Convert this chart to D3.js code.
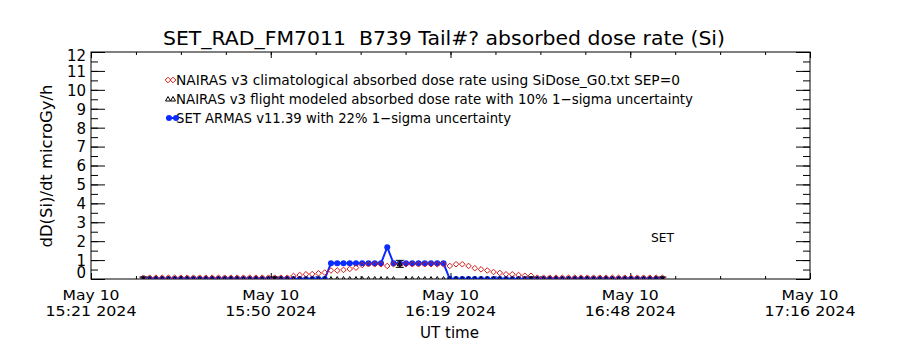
<!DOCTYPE html>
<html>
<head>
<meta charset="utf-8">
<script src="https://cdn.jsdelivr.net/npm/d3@7"></script>
<style>
  body { margin: 0; background: #fff; }
  svg { display: block; }
  text { font-family: "DejaVu Sans", sans-serif; fill: #000; white-space: pre; }
</style>
</head>
<body>
<svg id="chart" width="900" height="350"></svg>
<script>
// ---- text ----
const titleText = "SET_RAD_FM7011  B739 Tail#? absorbed dose rate (Si)";
const yLabelText = "dD(Si)/dt microGy/h";
const xLabelText = "UT time";
const noteText = "SET";
const legendLabels = [
  "NAIRAS v3 climatological absorbed dose rate using SiDose_G0.txt SEP=0",
  "NAIRAS v3 flight modeled absorbed dose rate with 10% 1\u2212sigma uncertainty",
  "SET ARMAS v11.39 with 22% 1\u2212sigma uncertainty"
];

// ---- axes ----
const xTickDates = ["May 10", "May 10", "May 10", "May 10", "May 10"];
const xTickTimes = ["15:21 2024", "15:50 2024", "16:19 2024", "16:48 2024", "17:16 2024"];
const yTickLabels = ["0", "1", "2", "3", "4", "5", "6", "7", "8", "9", "10", "11", "12"];
const axisStart = "2024-05-10 15:21:00";
const axisEnd = "2024-05-10 17:16:00";
const yRange = [0, 12];

// ---- data: one sample per minute ----
const sampleStart = "2024-05-10 15:29:23";
const sampleStepMin = 1;

// NAIRAS v3 climatological (microGy/h)
const nairasClimo = [
  0.07, 0.07, 0.07, 0.07, 0.07, 0.07, 0.07, 0.07, 0.07, 0.07,
  0.07, 0.07, 0.07, 0.07, 0.07, 0.07, 0.07, 0.07, 0.07, 0.07,
  0.07, 0.07, 0.07, 0.07, 0.16, 0.21, 0.25, 0.26, 0.30, 0.34,
  0.45, 0.45, 0.48, 0.53, 0.60, 0.74, 0.78, 0.78, 0.78, 0.69,
  0.78, 0.78, 0.78, 0.78, 0.78, 0.78, 0.78, 0.78, 0.78, 0.69,
  0.78, 0.78, 0.69, 0.57, 0.51, 0.45, 0.37, 0.32, 0.25, 0.25,
  0.21, 0.17, 0.17, 0.07, 0.07, 0.07, 0.07, 0.07, 0.07, 0.07,
  0.07, 0.07, 0.07, 0.07, 0.07, 0.07, 0.07, 0.07, 0.07, 0.07,
  0.07, 0.07, 0.07, 0.07
];

// NAIRAS v3 flight modeled (microGy/h)
const nairasFlight = [
  0, 0, 0, 0, 0, 0, 0, 0, 0, 0,
  0, 0, 0, 0, 0, 0, 0, 0, 0, 0,
  0, 0, 0, 0, 0, 0, 0, 0, 0, 0,
  0, 0, 0, 0, 0, 0, 0, 0, 0, 0,
  0, 0.80, 0, 0, 0, 0, 0, 0, 0, 0,
  0, 0, 0, 0, 0, 0, 0, 0, 0, 0,
  0, 0, 0, 0, 0, 0, 0, 0, 0, 0,
  0, 0, 0, 0, 0, 0, 0, 0, 0, 0,
  0, 0, 0, 0
];
// samples carrying a 10% error bar
const nairasFlightErrIdx = [0, 21, 41, 62, 83];
const nairasFlightErrFrac = 0.10;

// SET ARMAS v11.39 (microGy/h)
const armas = [
  0, 0, 0, 0, 0, 0, 0, 0, 0, 0,
  0, 0, 0, 0, 0, 0, 0, 0, 0, 0,
  0, 0, 0, 0, 0, 0, 0, 0, 0, 0,
  0.83, 0.83, 0.83, 0.83, 0.83, 0.83, 0.83, 0.83, 0.83, 1.68,
  0.83, 0.83, 0.83, 0.83, 0.83, 0.83, 0.83, 0.83, 0.83, 0,
  0, 0, 0, 0, 0, 0, 0, 0, 0, 0,
  0, 0, 0, 0, 0, 0, 0, 0, 0, 0,
  0, 0, 0, 0, 0, 0, 0, 0, 0, 0,
  0, 0, 0, 0
];

// ---- colours ----
const colClimo = "#d01a1a";
const colFlight = "#000000";
const colArmas = "#0a2cff";

// ---- layout ----
const svg = d3.select("#chart");
const plot = { left: 91, right: 810, top: 52, bottom: 279 };

const parse = d3.timeParse("%Y-%m-%d %H:%M:%S");
const t0 = parse(axisStart), t1 = parse(axisEnd);
const s0 = parse(sampleStart);
const times = armas.map((_, i) => d3.timeMinute.offset(s0, i * sampleStepMin));
const x = d3.scaleTime().domain([t0, t1]).range([plot.left, plot.right]);
const y = d3.scaleLinear().domain(yRange).range([plot.bottom, plot.top]);

const nX = xTickTimes.length - 1;
const majorX = d3.range(nX + 1).map(i => new Date(+t0 + i * (t1 - t0) / nX));
const minorX = d3.range(nX * 4 + 1).map(i => new Date(+t0 + i * (t1 - t0) / (nX * 4)));
const majorY = yTickLabels.map(Number);
const minorY = d3.range(0, 12.01, 0.5);

// clip region for data marks
svg.append("defs").append("clipPath").attr("id", "plotClip")
  .append("rect")
  .attr("x", plot.left).attr("y", plot.top)
  .attr("width", plot.right - plot.left).attr("height", plot.bottom - plot.top);

// ---- axes (ticks pointing inward on all four sides) ----
function tickAxis(gen, tx, ty) {
  const g = svg.append("g").attr("transform", `translate(${tx},${ty})`).call(gen);
  g.select(".domain").remove();
  g.selectAll("line").attr("stroke", "#000").attr("stroke-width", 1);
  return g;
}
tickAxis(d3.axisLeft(y).tickValues(minorY).tickSize(-7).tickFormat(""), plot.left, 0);
tickAxis(d3.axisRight(y).tickValues(minorY).tickSize(-7).tickFormat(""), plot.right, 0);
tickAxis(d3.axisRight(y).tickValues(majorY).tickSize(-14).tickFormat(""), plot.right, 0);
const yAx = tickAxis(d3.axisLeft(y).tickValues(majorY).tickSize(-14)
  .tickPadding(5).tickFormat((d, i) => yTickLabels[i]), plot.left, 0);
// end labels are kept inside the axis span
const lastY = majorY.length - 1;
yAx.selectAll("text").attr("font-size", 15).attr("font-family", null)
  .attr("fill", "#000")
  .attr("dy", (d, i) => i === 0 ? "-0.1em" : i === lastY ? "0.55em" : "0.36em");

tickAxis(d3.axisBottom(x).tickValues(minorX).tickSize(-3).tickFormat(""), 0, plot.bottom);
tickAxis(d3.axisTop(x).tickValues(minorX).tickSize(-3).tickFormat(""), 0, plot.top);
tickAxis(d3.axisBottom(x).tickValues(majorX).tickSize(-6).tickFormat(""), 0, plot.bottom);
tickAxis(d3.axisTop(x).tickValues(majorX).tickSize(-6).tickFormat(""), 0, plot.top);

// two-line date labels under the x axis
const xLab = svg.append("g");
majorX.forEach((d, i) => {
  xLab.append("text").attr("x", x(d)).attr("y", 300).attr("text-anchor", "middle")
    .attr("font-size", 14.5).attr("textLength", 57).attr("lengthAdjust", "spacingAndGlyphs")
    .text(xTickDates[i]);
  xLab.append("text").attr("x", x(d)).attr("y", 316).attr("text-anchor", "middle")
    .attr("font-size", 14.5).attr("textLength", 91).attr("lengthAdjust", "spacingAndGlyphs")
    .text(xTickTimes[i]);
});

// frame
svg.append("rect")
  .attr("x", plot.left).attr("y", plot.top)
  .attr("width", plot.right - plot.left).attr("height", plot.bottom - plot.top)
  .attr("fill", "none").attr("stroke", "#000").attr("stroke-width", 1);

// ---- titles ----
svg.append("text").attr("x", 444).attr("y", 45).attr("text-anchor", "middle")
  .attr("font-size", 19).attr("textLength", 562).attr("lengthAdjust", "spacingAndGlyphs")
  .text(titleText);
svg.append("text").attr("transform", "translate(52,166) rotate(-90)")
  .attr("text-anchor", "middle").attr("font-size", 16)
  .attr("textLength", 163).attr("lengthAdjust", "spacingAndGlyphs")
  .text(yLabelText);
svg.append("text").attr("x", 449.5).attr("y", 337.5).attr("text-anchor", "middle")
  .attr("font-size", 15).attr("textLength", 59).attr("lengthAdjust", "spacingAndGlyphs")
  .text(xLabelText);
svg.append("text").attr("x", 651).attr("y", 241.5)
  .attr("font-size", 12).attr("textLength", 23).attr("lengthAdjust", "spacingAndGlyphs")
  .text(noteText);

// ---- marker helpers ----
const diamond = (g, cx, cy, r, c) => g.append("path")
  .attr("d", `M${cx},${cy - r}L${cx + r},${cy}L${cx},${cy + r}L${cx - r},${cy}Z`)
  .attr("fill", "none").attr("stroke", c).attr("stroke-width", 1);
const triangle = (g, cx, cy, r, c) => g.append("path")
  .attr("d", `M${cx},${cy - r}L${cx + r},${cy + r * 0.8}L${cx - r},${cy + r * 0.8}Z`)
  .attr("fill", "none").attr("stroke", c).attr("stroke-width", 1);
const dot = (g, cx, cy, r, c) => g.append("circle")
  .attr("cx", cx).attr("cy", cy).attr("r", r).attr("fill", c);

// ---- data marks ----
const data = svg.append("g").attr("clip-path", "url(#plotClip)");

// SET ARMAS: line plus filled circles
data.append("path")
  .datum(armas)
  .attr("d", d3.line().x((d, i) => x(times[i])).y(d => y(d)))
  .attr("fill", "none").attr("stroke", colArmas).attr("stroke-width", 2);
armas.forEach((d, i) => dot(data, x(times[i]), y(d), 3, colArmas));

// NAIRAS climatological: open diamonds
nairasClimo.forEach((d, i) => diamond(data, x(times[i]), y(d), 2.8, colClimo));

// NAIRAS flight modeled: open triangles with error bars
nairasFlight.forEach((d, i) => triangle(data, x(times[i]), y(d), 2.5, colFlight));
nairasFlightErrIdx.forEach(i => {
  const cx = x(times[i]), v = nairasFlight[i];
  const lo = y(v * (1 - nairasFlightErrFrac)), hi = y(v * (1 + nairasFlightErrFrac));
  const eb = data.append("g").attr("stroke", colFlight).attr("stroke-width", 1);
  eb.append("line").attr("x1", cx).attr("x2", cx).attr("y1", lo + 2).attr("y2", hi - 2);
  eb.append("line").attr("x1", cx - 4).attr("x2", cx + 4).attr("y1", lo + 2).attr("y2", lo + 2);
  eb.append("line").attr("x1", cx - 4).attr("x2", cx + 4).attr("y1", hi - 2).attr("y2", hi - 2);
});

// ---- legend ----
const leg = svg.append("g");
const legY = [80, 99, 118];
const legTextLen = [504, 517, 335];
legendLabels.forEach((t, i) => {
  leg.append("text").attr("x", 176).attr("y", legY[i] + 5)
    .attr("font-size", 13.5).attr("textLength", legTextLen[i])
    .attr("lengthAdjust", "spacingAndGlyphs").text(t);
});
diamond(leg, 168, legY[0], 2.8, colClimo);
diamond(leg, 173, legY[0], 2.8, colClimo);
triangle(leg, 168, legY[1], 2.5, colFlight);
triangle(leg, 173, legY[1], 2.5, colFlight);
leg.append("line").attr("x1", 166).attr("x2", 178).attr("y1", legY[2]).attr("y2", legY[2])
  .attr("stroke", colArmas).attr("stroke-width", 2);
dot(leg, 169, legY[2], 3, colArmas);
dot(leg, 176, legY[2], 3, colArmas);
</script>
</body>
</html>
